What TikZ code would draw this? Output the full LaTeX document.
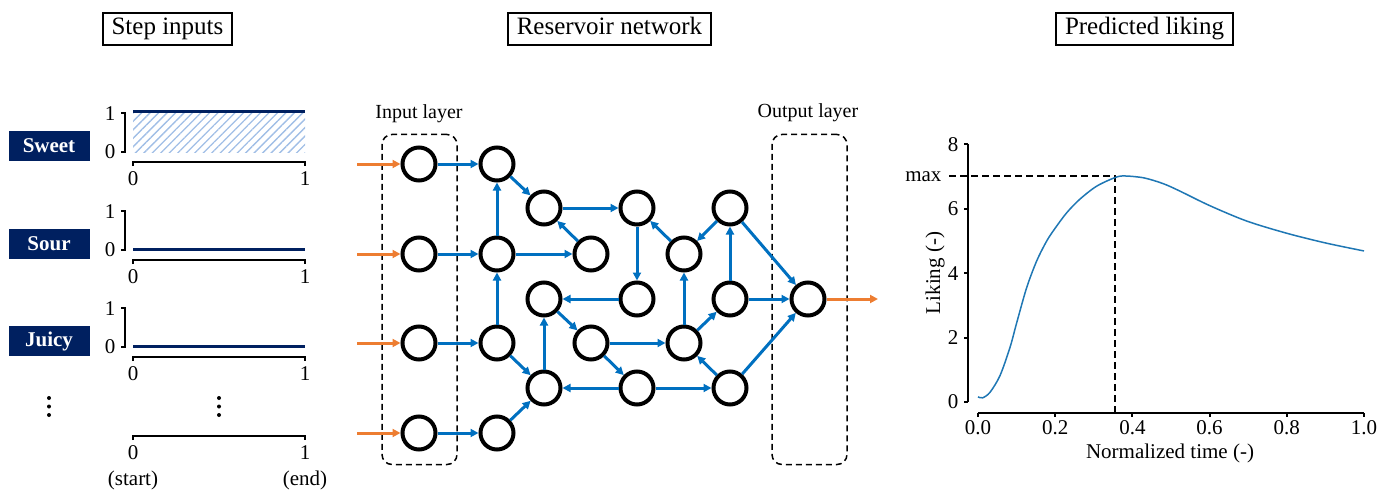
\documentclass[tikz,border=0pt]{standalone}
\usepackage{fontspec}
\setmainfont{Liberation Serif}
\usetikzlibrary{arrows.meta,patterns.meta}

\definecolor{navy}{RGB}{0,32,96}
\definecolor{hatchblue}{RGB}{160,190,230}
\definecolor{netblue}{RGB}{0,112,192}
\definecolor{netorange}{RGB}{237,125,49}
\definecolor{curveblue}{RGB}{31,119,180}

\begin{document}
\begin{tikzpicture}[x=1pt,y=-1pt,
  lab/.style={font=\fontsize{21}{24}\selectfont},
  titlebox/.style={draw,line width=2pt,inner xsep=9pt,inner ysep=5pt,
    text height=16.5pt,text depth=5pt,font=\fontsize{25}{29}\selectfont},
  tastebox/.style={fill=navy,text=white,minimum width=81pt,minimum height=30pt,
    inner sep=0pt,font=\fontsize{21}{24}\selectfont\bfseries},
  axisline/.style={line width=2pt},
  level/.style={navy,line width=3pt},
  neuron/.style={circle,draw,line width=4pt,minimum size=33pt,inner sep=0pt,fill=white},
  link/.style={netblue,line width=3pt,-{Triangle[length=8pt,width=8pt]}},
  feed/.style={netorange,line width=3pt,-{Triangle[length=8pt,width=8pt]}},
  layerbox/.style={draw,dashed,dash pattern=on 6pt off 4pt,line width=1.5pt,
    rounded corners=10pt,minimum width=75pt,minimum height=330pt},
  guide/.style={dashed,dash pattern=on 7pt off 4pt,line width=1.5pt}]
\useasboundingbox (0,0) rectangle (1392,492);

% The titles
\node[titlebox] (tstep) at (167.5,29) {Step inputs};
\node[titlebox] (tres) at (609.5,29) {Reservoir network};
\node[titlebox] (tpred) at (1144.5,29) {Predicted liking};

% The step inputs
\foreach \ax/\taste/\lvl [count=\i] in {162/Sweet/1,260/Sour/0,357/Juicy/0}
{
  \node[tastebox] (taste\i) at (49,\ax-16) {\taste};
  \ifnum\lvl=1
    \fill[pattern={Lines[angle=45,distance=6pt,line width=1.3pt]},pattern color=hatchblue]
      (133,\ax-49) rectangle (305,\ax-9);
  \fi
  \draw[level] (133,{\ax-11-39*\lvl}) -- (305,{\ax-11-39*\lvl});
  \draw[axisline] (121,\ax-49) -- (125,\ax-49) -- (125,\ax-10) -- (121,\ax-10);
  \node[lab] at (110,\ax-48) {1};
  \node[lab] at (110,\ax-10) {0};
  \draw[axisline] (133,\ax+4) -- (133,\ax) -- (305,\ax) -- (305,\ax+4);
  \node[lab] at (133,\ax+17) {0};
  \node[lab] at (305,\ax+17) {1};
}
% The dots and the last axis
\foreach \dy in {398,406.5,415}
{
  \fill (49,\dy) circle (2);
  \fill (219,\dy) circle (2);
}
\draw[axisline] (133,440) -- (133,436) -- (305,436) -- (305,440);
\node[lab] at (133,453) {0};
\node[lab] at (305,453) {1};
\node[lab] at (133,480) {(start)};
\node[lab] at (305,480) {(end)};

% The layers
\node[layerbox] (inlayer) at (419.5,299.5) {};
\node[layerbox] (outlayer) at (809.5,299.5) {};
\node[lab,font=\fontsize{20}{24}\selectfont] at (419,114) {Input layer};
\node[lab,font=\fontsize{20}{24}\selectfont] at (808,113) {Output layer};

% The neurons
\foreach \name/\x/\y in {in1/419/164,in2/419/254,in3/419/343,in4/419/433,
  ra1/497/164,ra2/497/254,ra3/497/343,ra4/497/433,
  rb1/544/208,rb2/544/299,rb3/544/388,rc1/591/254,rc2/591/343,
  rd1/637/208,rd2/637/299,rd3/637/388,re1/684/254,re2/684/343,
  rf1/730/208,rf2/730/299,rf3/730/388,out/808/299}
  \node[neuron] (\name) at (\x,\y) {};

% Feeding in and out
\foreach \i/\y in {1/164,2/254,3/343,4/433}
{
  \coordinate (src\i) at (357,\y);
  \draw[feed] (src\i) -- (in\i);
  \draw[link] (in\i) -- (ra\i);
}
\coordinate (sink) at (878,299);
\draw[feed] (out) -- (sink);

% The reservoir links
\foreach \a/\b in {ra1/rb1,ra2/ra1,ra2/rc1,rc1/rb1,rb1/rd1,ra3/ra2,ra3/rb3,
  ra4/rb3,rb3/rb2,rb2/rc2,rd2/rb2,rc2/re2,rc2/rd3,rd3/rb3,rd3/rf3,rd1/rd2,
  re1/rd1,rf1/re1,re2/re1,rf2/rf1,re2/rf2,rf3/re2,rf1/out,rf2/out,rf3/out}
  \draw[link] (\a) -- (\b);

% The liking plot
\draw[axisline] (968,144) -- (968,402);
\foreach \v in {0,2,4,6,8}
{
  \draw[axisline] (964,{402-32.2*\v}) -- (968,{402-32.2*\v});
  \node[lab,anchor=east] at (962,{402-32.2*\v}) {\v};
}
\draw[axisline] (978,413) -- (1364,413);
\foreach \t/\tl in {0/0.0,0.2/0.2,0.4/0.4,0.6/0.6,0.8/0.8,1/1.0}
{
  \draw[axisline] ({978+386*\t},413) -- ({978+386*\t},417);
  \node[lab] at ({978+386*\t},428) {\tl};
}
\node[lab] at (1170,453) {Normalized time (-)};
\node[lab,rotate=90] at (935,273) {Liking (-)};
\node[lab,anchor=base east] at (945,182) {max};
\draw[guide] (949,176) -- (1115,176) -- (1115,413);
\begin{scope}[shift={(978,402)},x=386pt,y=32.2pt]
  \draw[curveblue,line width=1.5pt] plot[smooth,tension=0.5] coordinates
    {(0,0.16) (0.012,0.13) (0.031,0.3) (0.057,0.82) (0.083,1.7) (0.1,2.45)
     (0.126,3.55) (0.152,4.38) (0.178,5.0) (0.2,5.4) (0.23,5.88) (0.264,6.3)
     (0.307,6.7) (0.355,6.97) (0.38,7.02) (0.43,6.96) (0.48,6.78) (0.523,6.55)
     (0.6,6.1) (0.696,5.62) (0.8,5.24) (0.9,4.94) (1,4.69)};
\end{scope}
\end{tikzpicture}
\end{document}
